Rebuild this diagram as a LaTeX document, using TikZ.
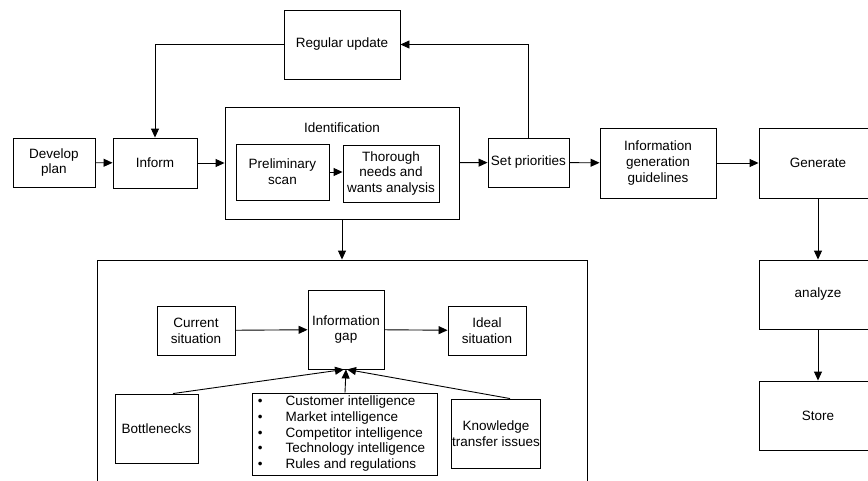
\documentclass[tikz,border=0pt]{standalone}
\usepackage{fontspec}
\setmainfont{Liberation Sans}
\usetikzlibrary{arrows.meta}

\begin{document}
\begin{tikzpicture}[x=1pt,y=-1pt,font=\fontsize{13.5}{15.7}\selectfont,
  box/.style={draw, line width=0.9pt, align=center, inner sep=1pt},
  flow/.style={line width=0.9pt, -{Triangle[length=9pt,width=8pt]}}]
\useasboundingbox (0,0) rectangle (868,480);
% top row
\node[box, minimum width=82, minimum height=49] (dev) at (54,162.5) {Develop\\plan};
\node[box, minimum width=84, minimum height=50] (inform) at (155,163) {Inform};
\node[box, minimum width=116, minimum height=69] (upd) at (342,44.5) {Regular update};
\node[box, minimum width=234, minimum height=112] (ident) at (342,163) {};
\node (identlabel) at (342,128) {Identification};
\node[box, minimum width=93, minimum height=56] (prelim) at (282.5,172) {Preliminary\\scan};
\node[box, minimum width=96, minimum height=57] (thor) at (391,173.5) {Thorough\\needs and\\wants analysis};
\node[box, minimum width=81, minimum height=49] (setp) at (528.5,162.5) {Set priorities};
\node[box, minimum width=116, minimum height=70] (guide) at (658,163) {Information\\generation\\guidelines};
\node[box, minimum width=118, minimum height=70] (gen) at (818,163) {Generate};
\node[box, minimum width=118, minimum height=69] (anl) at (818,294.5) {analyze};
\node[box, minimum width=118, minimum height=69] (store) at (818,415.5) {Store};
% gap analysis frame
\node[box, minimum width=490, minimum height=250] (frame) at (342,385) {};
\node[box, minimum width=78, minimum height=49] (cur) at (196,330.5) {Current\\situation};
\node[box, minimum width=76, minimum height=79] (gap) at (346,329.5) {Information\\gap};
\node[box, minimum width=78, minimum height=49] (ideal) at (487,330.5) {Ideal\\situation};
\node[box, minimum width=83, minimum height=69] (bott) at (156.5,428.5) {Bottlenecks};
\node[box, minimum width=184, minimum height=82, inner sep=0pt] (list) at (345,434)
  {\renewcommand{\arraystretch}{1.0}%
   \begin{tabular}{@{\hspace{5pt}}l@{\hspace{23pt}}l@{\hspace{12pt}}}
   \textbullet & Customer intelligence\\
   \textbullet & Market intelligence\\
   \textbullet & Competitor intelligence\\
   \textbullet & Technology intelligence\\
   \textbullet & Rules and regulations
   \end{tabular}};
\node[box, minimum width=88, minimum height=69] (know) at (496,433.5) {Knowledge\\transfer issues};
% connectors
\draw[flow] (dev) -- (inform);
\draw[flow] (inform) -- (ident);
\draw[flow] (prelim) -- (prelim -| thor.west);
\draw[flow] (ident) -- (setp);
\draw[flow] (setp) -- (guide);
\draw[flow] (guide) -- (gen);
\draw[flow] (setp.north) |- (upd.east);
\draw[flow] (upd.west) -| (inform.north);
\draw[flow] (ident.south) -- (frame.north);
\draw[flow] (gen) -- (anl);
\draw[flow] (anl) -- (store);
\draw[flow] (cur) -- (gap);
\draw[flow] (gap) -- (ideal);
\draw[flow] ([xshift=16.5pt]bott.north) -- ([xshift=-2pt]gap.south);
\draw[flow] (list.north) -- (gap.south);
\draw[flow] ([xshift=14pt]know.north) -- ([xshift=1pt]gap.south);
\end{tikzpicture}
\end{document}
